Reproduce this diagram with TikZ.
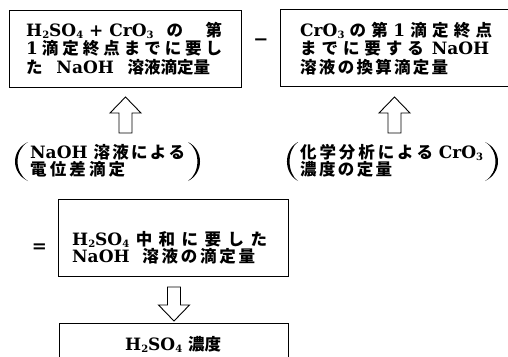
\documentclass[tikz,border=0pt]{standalone}
\usepackage{fontspec}
\setmainfont{DejaVu Serif}
\newfontfamily\jpfont{Noto Sans CJK JP}
\usetikzlibrary{calc}
\setlength{\lineskiplimit}{-30pt}
\newcommand\J[1]{{\jpfont\bfseries\fontsize{16.5}{16.5}\selectfont #1}}
\newcommand\ssub[1]{\raisebox{-2pt}{\fontsize{10}{10}\selectfont #1}}
\newcommand\jl[2]{\makebox[#1pt][s]{#2}}
\newcommand\blockarrow[2]{%
  \draw[blockarr] let \p1=(#1), \p2=(#2), \p3=($(#2)!16pt!(#1)$) in
    (\x1-6.5pt,\y1) -- (\x1-6.5pt,\y3) -- (\x1-15.5pt,\y3) -- (\x2,\y2)
    -- (\x1+15.5pt,\y3) -- (\x1+6.5pt,\y3) -- (\x1+6.5pt,\y1) -- cycle;}
\newcommand\parenshape[3]{% x at ends, outer ctrl x, inner ctrl x
  \fill (#1,142) .. controls (#2,150) and (#2,173) .. (#1,181)
        .. controls (#3,173) and (#3,150) .. (#1,142) -- cycle;}
\begin{document}
\begin{tikzpicture}[x=1pt,y=-1pt,
  box/.style={draw, line width=0.9pt, inner sep=0pt},
  txt/.style={align=left, inner sep=0pt, anchor=west,
    font=\bfseries\fontsize{17}{18.5}\selectfont},
  txtb/.style={txt, font=\bfseries\fontsize{17}{17.2}\selectfont},
  sym/.style={inner sep=0pt, font=\bfseries\fontsize{18}{18}\selectfont},
  blockarr/.style={draw, line width=0.9pt, fill=white, line join=miter}]
\clip (0,0) rectangle (508,356);
\fill[white] (0,0) rectangle (508,356);

% boxes
\node[box, minimum width=232pt, minimum height=77pt] (b1) at (125,48.5) {};
\node[box, minimum width=240pt, minimum height=77pt] (b2) at (400,47.5) {};
\node[box, minimum width=230pt, minimum height=77pt] (b3) at (173.5,237.5) {};
\node[box, minimum width=229pt, minimum height=60pt] (b4) at (173.5,353) {};

% texts in boxes
\node[txt] (t1) at (26,48.5) {%
  \jl{196}{H\ssub2SO\ssub4 + CrO\ssub3\hspace{13pt}\J{の}\hfil\J{第}}\\
  \jl{196}{1\hfil\J{滴}\hfil\J{定}\hfil\J{終}\hfil\J{点}\hfil\J{ま}\hfil\J{で}\hfil\J{に}\hfil\J{要}\hfil\J{し}}\\
  \jl{184}{\J{た} NaOH \J{溶液滴定量}}};
\node[txt] (t2) at (300,48.5) {%
  \jl{192}{CrO\ssub3\hfil\J{の}\hfil\J{第}\hfil 1\hfil\J{滴}\hfil\J{定}\hfil\J{終}\hfil\J{点}}\\
  \jl{189}{\J{ま}\hfil\J{で}\hfil\J{に}\hfil\J{要}\hfil\J{す}\hfil\J{る}\hspace{3pt}\hfil NaOH}\\
  \jl{148}{\J{溶}\hfil\J{液}\hfil\J{の}\hfil\J{換}\hfil\J{算}\hfil\J{滴}\hfil\J{定}\hfil\J{量}}};
\node[txtb] (t3) at (72,248) {%
  \jl{195}{H\ssub2SO\ssub4\hfil\J{中}\hfil\J{和}\hfil\J{に}\hfil\J{要}\hfil\J{し}\hfil\J{た}}\\
  \jl{183}{NaOH\hspace{10pt}\hfil\J{溶}\hfil\J{液}\hfil\J{の}\hfil\J{滴}\hfil\J{定}\hfil\J{量}}};
\node[txt] (t4) at (125,344) {H\ssub2SO\ssub4 \J{濃度}};

% parenthesised notes
\node[txtb] (p1) at (30,161) {%
  \jl{155}{NaOH \J{溶}\hfil\J{液}\hfil\J{に}\hfil\J{よ}\hfil\J{る}}\\
  \jl{95}{\J{電}\hfil\J{位}\hfil\J{差}\hfil\J{滴}\hfil\J{定}}};
\node[txtb] (p2) at (300,161) {%
  \jl{183}{\J{化}\hfil\J{学}\hfil\J{分}\hfil\J{析}\hfil\J{に}\hfil\J{よ}\hfil\J{る} CrO\ssub3}\\
  \jl{92}{\J{濃}\hfil\J{度}\hfil\J{の}\hfil\J{定}\hfil\J{量}}};
\parenshape{28}{10.7}{14.1}
\parenshape{188}{204}{200.5}
\parenshape{298}{283.3}{286.8}
\parenshape{485}{502.3}{498.9}

% operators
\node[sym] (minus) at (261,42) {−};
\node[sym] (eq) at (39.5,248) {=};

% block arrows
\coordinate (a1s) at (125.5,133);
\coordinate (a1e) at (125.5,97);
\coordinate (a2s) at (394.5,133);
\coordinate (a2e) at (394.5,97);
\coordinate (a3s) at (174,287);
\coordinate (a3e) at (174,321);
\blockarrow{a1s}{a1e}
\blockarrow{a2s}{a2e}
\blockarrow{a3s}{a3e}
\end{tikzpicture}
\end{document}
